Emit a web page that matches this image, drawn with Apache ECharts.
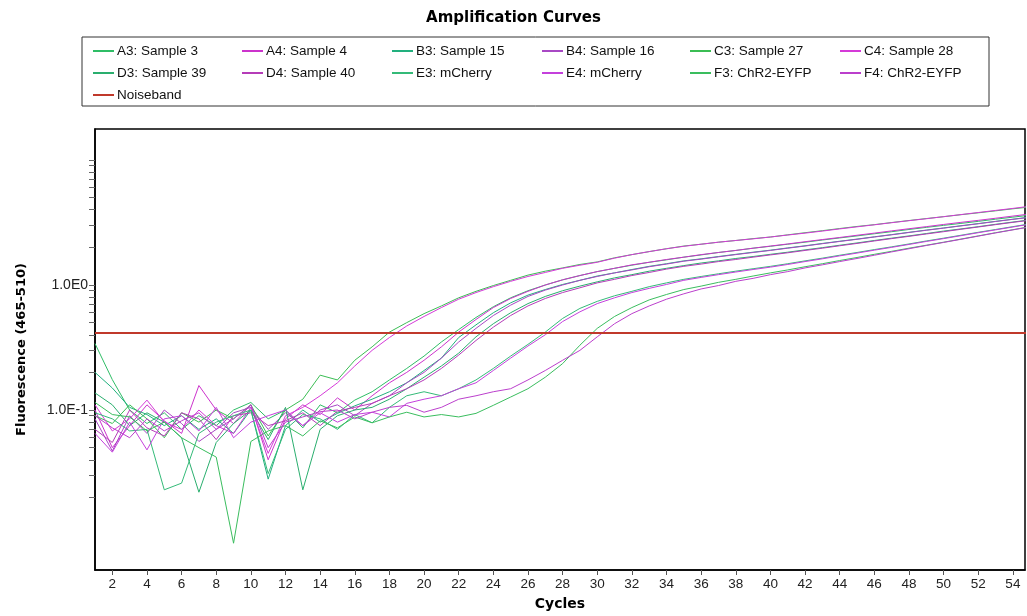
<!DOCTYPE html>
<html><head><meta charset="utf-8">
<script src="https://cdn.jsdelivr.net/npm/echarts@6/dist/echarts.min.js"></script>
<style>html,body{margin:0;padding:0;background:#fff}#c{width:1027px;height:616px}</style>
</head><body><div id="c"></div>
<script>
const cycles = [1,2,3,4,5,6,7,8,9,10,11,12,13,14,15,16,17,18,19,20,21,22,23,24,25,26,27,28,29,30,31,32,33,34,35,36,37,38,39,40,41,42,43,44,45,46,47,48,49,50,51,52,53,54,55];

const A3 = [0.34,0.175,0.1,0.078,0.095,0.07,0.09,0.075,0.1,0.115,0.085,0.1,0.072,0.11,0.095,0.12,0.14,0.174,0.215,0.27,0.35,0.44,0.55,0.67,0.79,0.9,1.0,1.1,1.19,1.28,1.36,1.44,1.52,1.59,1.67,1.74,1.82,1.89,1.97,2.04,2.12,2.2,2.29,2.38,2.47,2.57,2.67,2.78,2.89,3.0,3.11,3.23,3.36,3.49,3.62];
const A4 = [0.1,0.05,0.075,0.11,0.082,0.065,0.157,0.1,0.078,0.11,0.04,0.085,0.11,0.092,0.125,0.1,0.13,0.165,0.2,0.25,0.32,0.42,0.53,0.66,0.78,0.89,1.0,1.1,1.19,1.28,1.36,1.45,1.52,1.6,1.67,1.75,1.82,1.89,1.97,2.05,2.13,2.22,2.31,2.4,2.5,2.6,2.71,2.82,2.93,3.05,3.17,3.29,3.42,3.56,3.7];
const B3 = [0.2,0.15,0.105,0.092,0.075,0.09,0.07,0.085,0.065,0.1,0.028,0.075,0.1,0.08,0.094,0.108,0.122,0.14,0.165,0.207,0.26,0.38,0.48,0.6,0.72,0.83,0.92,1.01,1.09,1.18,1.25,1.33,1.41,1.48,1.56,1.62,1.69,1.76,1.83,1.9,1.98,2.06,2.15,2.24,2.33,2.43,2.53,2.64,2.75,2.86,2.98,3.1,3.23,3.36,3.5];
const B4 = [0.085,0.047,0.09,0.065,0.1,0.078,0.056,0.07,0.095,0.105,0.07,0.095,0.075,0.1,0.11,0.09,0.113,0.13,0.165,0.2,0.26,0.35,0.45,0.57,0.69,0.81,0.91,1.0,1.09,1.17,1.25,1.32,1.4,1.47,1.55,1.61,1.68,1.75,1.82,1.89,1.97,2.05,2.14,2.23,2.32,2.42,2.52,2.63,2.74,2.85,2.97,3.09,3.22,3.35,3.48];
const C3 = [0.09,0.078,0.11,0.085,0.06,0.095,0.08,0.1,0.085,0.11,0.062,0.1,0.122,0.19,0.174,0.25,0.32,0.42,0.5,0.59,0.68,0.79,0.89,0.99,1.09,1.2,1.29,1.37,1.46,1.53,1.65,1.75,1.85,1.95,2.05,2.12,2.2,2.27,2.35,2.42,2.52,2.62,2.72,2.83,2.94,3.04,3.16,3.28,3.4,3.52,3.65,3.78,3.92,4.07,4.21];
const C4 = [0.11,0.068,0.085,0.12,0.08,0.07,0.1,0.075,0.065,0.105,0.045,0.09,0.105,0.13,0.165,0.225,0.3,0.38,0.47,0.56,0.66,0.77,0.87,0.97,1.07,1.17,1.26,1.36,1.44,1.52,1.64,1.75,1.85,1.95,2.04,2.12,2.2,2.27,2.34,2.42,2.51,2.6,2.7,2.81,2.92,3.03,3.15,3.27,3.39,3.52,3.66,3.8,3.95,4.1,4.27];
const D3 = [0.137,0.11,0.075,0.095,0.08,0.06,0.022,0.055,0.078,0.1,0.058,0.105,0.023,0.07,0.09,0.1,0.105,0.122,0.148,0.183,0.225,0.285,0.385,0.49,0.6,0.71,0.81,0.9,0.98,1.06,1.14,1.21,1.29,1.36,1.43,1.5,1.56,1.63,1.69,1.76,1.83,1.91,1.99,2.08,2.17,2.27,2.37,2.47,2.58,2.7,2.81,2.93,3.06,3.19,3.32];
const D4 = [0.07,0.055,0.1,0.072,0.062,0.095,0.085,0.058,0.09,0.095,0.075,0.082,0.095,0.075,0.098,0.105,0.113,0.13,0.148,0.174,0.215,0.275,0.36,0.46,0.57,0.68,0.78,0.87,0.95,1.04,1.11,1.19,1.26,1.34,1.41,1.47,1.54,1.6,1.67,1.74,1.81,1.89,1.97,2.06,2.15,2.25,2.35,2.45,2.56,2.67,2.79,2.91,3.04,3.17,3.3];
const E3 = [0.095,0.085,0.068,0.07,0.023,0.026,0.065,0.08,0.09,0.1,0.031,0.07,0.092,0.085,0.07,0.092,0.079,0.105,0.13,0.14,0.13,0.148,0.174,0.215,0.27,0.335,0.42,0.54,0.65,0.74,0.82,0.89,0.97,1.04,1.11,1.17,1.23,1.29,1.35,1.41,1.48,1.56,1.64,1.73,1.82,1.92,2.02,2.13,2.25,2.37,2.5,2.64,2.78,2.93,3.09];
const E4 = [0.065,0.046,0.08,0.048,0.085,0.09,0.068,0.105,0.06,0.08,0.09,0.1,0.075,0.095,0.08,0.092,0.096,0.088,0.113,0.122,0.13,0.148,0.165,0.207,0.26,0.325,0.4,0.51,0.61,0.71,0.79,0.87,0.94,1.01,1.09,1.15,1.21,1.27,1.33,1.39,1.46,1.54,1.62,1.71,1.8,1.9,2.0,2.11,2.23,2.35,2.48,2.62,2.76,2.91,3.07];
const F3 = [0.115,0.092,0.088,0.068,0.08,0.06,0.05,0.042,0.0086,0.056,0.068,0.075,0.062,0.082,0.072,0.088,0.079,0.088,0.096,0.088,0.092,0.088,0.094,0.109,0.127,0.148,0.183,0.235,0.33,0.45,0.56,0.66,0.76,0.84,0.92,0.98,1.05,1.11,1.18,1.25,1.32,1.4,1.48,1.57,1.66,1.76,1.86,1.97,2.08,2.2,2.33,2.47,2.62,2.77,2.93];
const F4 = [0.09,0.072,0.06,0.085,0.068,0.082,0.095,0.07,0.085,0.11,0.05,0.08,0.088,0.097,0.1,0.085,0.096,0.105,0.109,0.096,0.105,0.122,0.13,0.14,0.148,0.174,0.207,0.25,0.3,0.385,0.49,0.59,0.68,0.77,0.85,0.93,0.99,1.07,1.13,1.21,1.28,1.37,1.45,1.54,1.63,1.73,1.84,1.95,2.07,2.19,2.32,2.46,2.61,2.76,2.92];
const noiseband = 0.413;

const seriesNames = ['A3: Sample 3','A4: Sample 4','B3: Sample 15','B4: Sample 16','C3: Sample 27','C4: Sample 28','D3: Sample 39','D4: Sample 40','E3: mCherry','E4: mCherry','F3: ChR2-EYFP','F4: ChR2-EYFP'];
const seriesValues = [A3,A4,B3,B4,C3,C4,D3,D4,E3,E4,F3,F4];
const noiseName = 'Noiseband';

const xTicks = [2,4,6,8,10,12,14,16,18,20,22,24,26,28,30,32,34,36,38,40,42,44,46,48,50,52,54];
const yMinorTicks = [0.02,0.03,0.04,0.05,0.06,0.07,0.08,0.09,0.1,0.2,0.3,0.4,0.5,0.6,0.7,0.8,0.9,1,2,3,4,5,6,7,8,9,10];
const yLabelValues = [0.1, 1];
const yLabelTexts = ['1.0E-1', '1.0E0'];

const colors = ['#2fbd66','#cc33cc','#22b07e','#a848c4','#3bbd54','#d53ad8','#2aae6e','#b53cb8','#34ba78','#c440dc','#3abd5e','#bb3fcc'];
const noiseColor = '#c0392b';

const font = "'Liberation Sans', Arial, sans-serif";
const boldFont = "'DejaVu Sans', 'Liberation Sans', Arial, sans-serif";

const series = seriesNames.map((n, k) => ({
  name: n, type: 'line', symbol: 'none', showSymbol: false,
  lineStyle: { width: 1, color: colors[k] }, itemStyle: { color: colors[k] },
  data: cycles.map((c, i) => [c, seriesValues[k][i]])
}));
series.push({
  name: noiseName, type: 'line', symbol: 'none', showSymbol: false,
  lineStyle: { width: 2, color: noiseColor }, itemStyle: { color: noiseColor },
  data: [[cycles[0], noiseband], [cycles[cycles.length - 1], noiseband]], z: 5
});

const columns = [
  [seriesNames[0], seriesNames[6], noiseName],
  [seriesNames[1], seriesNames[7]],
  [seriesNames[2], seriesNames[8]],
  [seriesNames[3], seriesNames[9]],
  [seriesNames[4], seriesNames[10]],
  [seriesNames[5], seriesNames[11]]
];
const colLeft = [88, 237, 387, 537, 685, 835];
const legends = columns.map((names, i) => ({
  orient: 'vertical', left: colLeft[i], top: 39, itemGap: 8,
  icon: 'rect', itemWidth: 21, itemHeight: 2,
  textStyle: { fontFamily: font, fontSize: 13.5, color: '#111', padding: [0,0,0,-2] },
  data: names, selectedMode: false
}));

const chart = echarts.init(document.getElementById('c'), null, { renderer: 'canvas' });
chart.setOption({
  animation: false,
  backgroundColor: '#fff',
  title: { text: 'Amplification Curves', left: 'center', top: 6,
    textStyle: { fontFamily: boldFont, fontSize: 15, fontWeight: 'bold', color: '#000' } },
  legend: legends,
  graphic: [{ type: 'rect', shape: { x: 82, y: 37, width: 907, height: 69 },
    style: { fill: 'none', stroke: '#333', lineWidth: 1 } }],
  grid: { left: 95, right: 2, top: 129, bottom: 46, show: true, borderColor: '#000', borderWidth: 1.5, backgroundColor: '#fff' },
  xAxis: {
    type: 'value', min: 1, max: 54.7,
    name: 'Cycles', nameLocation: 'middle', nameGap: 27,
    nameTextStyle: { fontFamily: boldFont, fontSize: 14, fontWeight: 'bold', color: '#000' },
    axisLine: { lineStyle: { color: '#000', width: 1.5 } },
    axisTick: { show: true, length: 5, inside: false, customValues: xTicks, lineStyle: { color: '#555' } },
    axisLabel: { customValues: xTicks, margin: 7, fontFamily: font, fontSize: 13.5, color: '#222' },
    splitLine: { show: false }
  },
  yAxis: {
    type: 'log', logBase: 10, min: 0.00525, max: 17.7,
    name: 'Fluorescence (465-510)', nameLocation: 'middle', nameGap: 67,
    nameTextStyle: { fontFamily: boldFont, fontSize: 13, fontWeight: 'bold', color: '#000' },
    axisLine: { show: true, lineStyle: { color: '#000', width: 1.5 } },
    axisTick: { show: true, length: 6, inside: false, customValues: yMinorTicks, lineStyle: { color: '#666' } },
    axisLabel: { customValues: yLabelValues, margin: 7, fontFamily: font, fontSize: 14, color: '#222',
      formatter: v => { let b = 0, d = Infinity; yLabelValues.forEach((t, i) => { const e = Math.abs(Math.log10(t) - Math.log10(v)); if (e < d) { d = e; b = i; } }); return yLabelTexts[b]; } },
    splitLine: { show: false }, minorTick: { show: false }
  },
  series: series
});
</script>
</body></html>
